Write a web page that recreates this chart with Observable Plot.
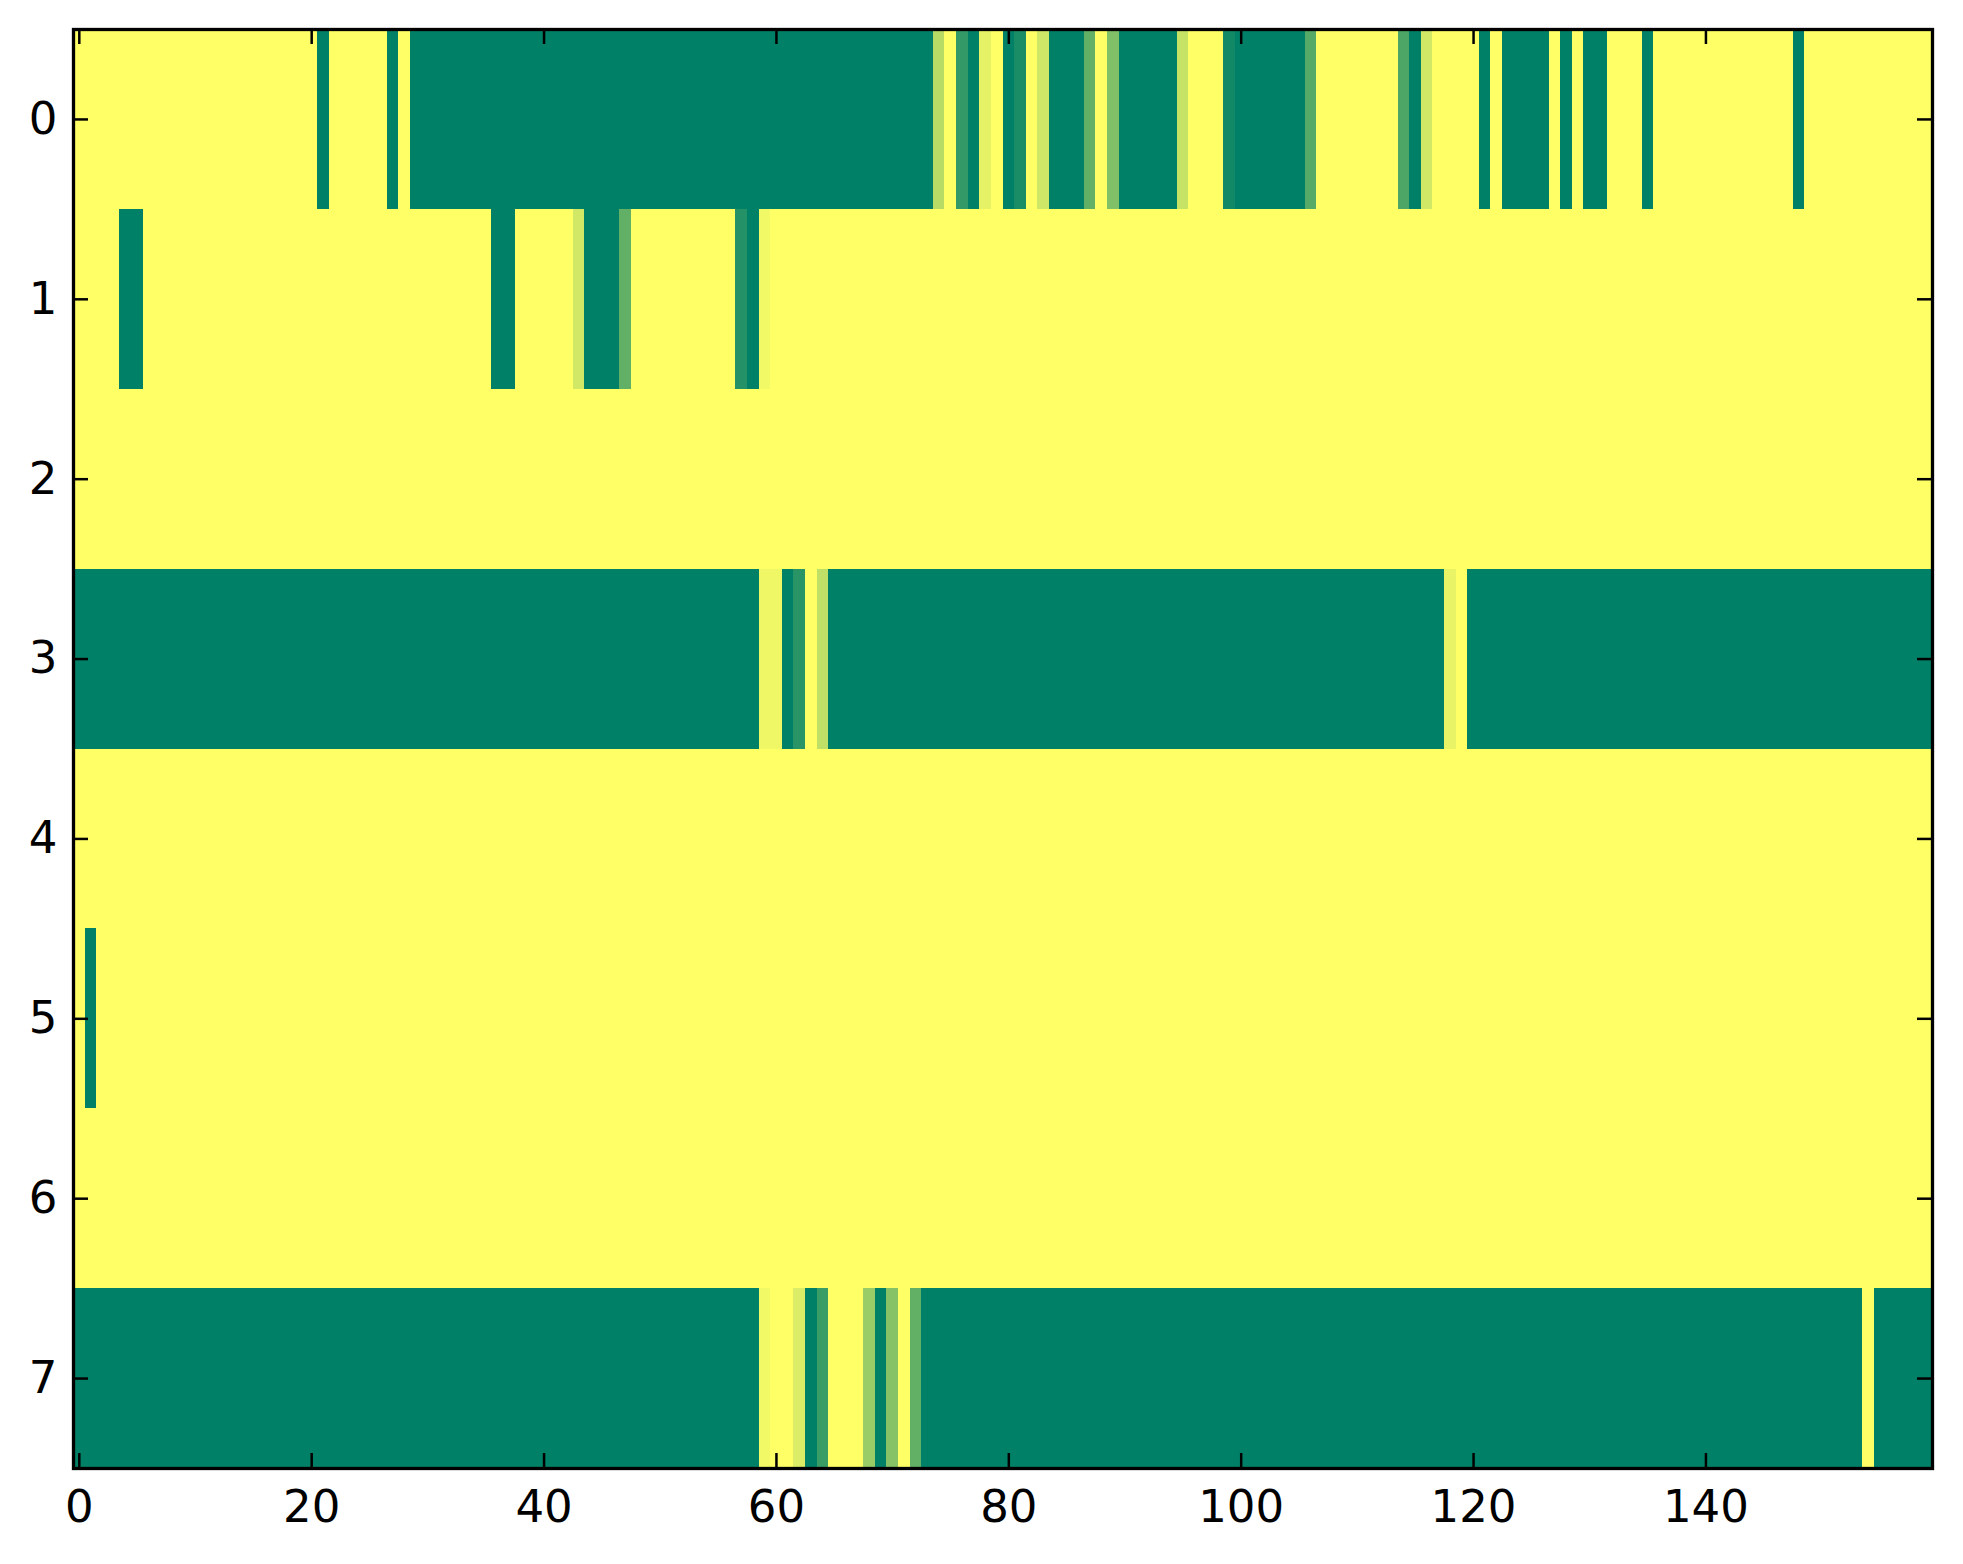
<!DOCTYPE html>
<html><head><meta charset="utf-8">
<script src="https://cdn.jsdelivr.net/npm/d3@7"></script>
<script src="https://cdn.jsdelivr.net/npm/@observablehq/plot@0.6"></script>
<style>body{margin:0;background:#fff}</style>
</head><body><div id="chart"></div>
<script>
// Row labels and x tick labels
const rowLabels = [0, 1, 2, 3, 4, 5, 6, 7];
const xTickValues = [0, 20, 40, 60, 80, 100, 120, 140];
const nCols = 160;

// Each row as runs of cells: [firstColumn, lastColumn, value]
const row0 = [[0,20,1],[21,21,0],[22,26,1],[27,27,0],[28,28,1],[29,73,0],[74,74,0.72],[75,75,1],[76,76,0.2],[77,77,0],[78,78,0.9],[79,79,1],[80,80,0],[81,81,0.1],[82,82,1],[83,83,0.81],[84,86,0],[87,87,0.38],[88,88,1],[89,89,0.5],[90,94,0],[95,95,0.78],[96,98,1],[99,99,0.07],[100,105,0],[106,106,0.33],[107,113,1],[114,114,0.3],[115,115,0],[116,116,0.82],[117,120,1],[121,121,0],[122,122,1],[123,126,0],[127,127,1],[128,128,0],[129,129,1],[130,131,0],[132,134,1],[135,135,0],[136,147,1],[148,148,0],[149,159,1]];
const row1 = [[0,3,1],[4,5,0],[6,35,1],[36,37,0],[38,42,1],[43,43,0.82],[44,46,0],[47,47,0.38],[48,56,1],[57,57,0.14],[58,58,0],[59,59,0.95],[60,159,1]];
const row2 = [[0,159,1]];
const row3 = [[0,58,0],[59,60,0.94],[61,61,0],[62,62,0.16],[63,63,1],[64,64,0.75],[65,117,0],[118,118,0.91],[119,119,1],[120,159,0]];
const row4 = [[0,159,1]];
const row5 = [[0,0,1],[1,1,0],[2,159,1]];
const row6 = [[0,159,1]];
const row7 = [[0,58,0],[59,59,0.95],[60,61,1],[62,62,0.86],[63,63,0],[64,64,0.23],[65,67,1],[68,68,0.6],[69,69,0],[70,70,0.53],[71,71,1],[72,72,0.38],[73,153,0],[154,154,1],[155,159,0]];

const rows = [row0, row1, row2, row3, row4, row5, row6, row7];
const runs = rows.flatMap((r, i) => r.map(([a, b, v]) => ({row: rowLabels[i], first: a, last: b, value: v})));

const W = 1963, H = 1564, mL = 73, mR = 31, mT = 29, mB = 96;
const plotW = W - mL - mR, plotH = H - mT - mB;
const tickLen = 15;
const tickStyle = {stroke: "black", strokeWidth: 2.5};
const fs = 45;

const chart = Plot.plot({
  width: W, height: H,
  marginLeft: mL, marginRight: mR, marginTop: mT, marginBottom: mB,
  style: {fontFamily: "'DejaVu Sans', sans-serif", fontSize: fs + "px", background: "white", color: "black"},
  x: {domain: [-0.5, nCols - 0.5]},
  y: {domain: [-0.5, 7.5], reverse: true},
  color: {type: "linear", domain: [0, 1], range: ["#008066", "#ffff66"], interpolate: "rgb"},
  marks: [
    Plot.rect(runs, {
      x1: d => d.first - 0.5, x2: d => d.last + 0.5,
      y1: d => d.row - 0.5, y2: d => d.row + 0.5,
      fill: "value", shapeRendering: "crispEdges"
    }),
    Plot.tickX(xTickValues, {x: d => d, insetTop: plotH - tickLen, ...tickStyle}),
    Plot.tickX(xTickValues, {x: d => d, insetBottom: plotH - tickLen, ...tickStyle}),
    Plot.tickY(rowLabels, {y: d => d, insetRight: plotW - tickLen, ...tickStyle}),
    Plot.tickY(rowLabels, {y: d => d, insetLeft: plotW - tickLen, ...tickStyle}),
    Plot.axisX(xTickValues, {tickSize: 0, tickPadding: 22, fontSize: fs, label: null, fill: "black", tickFormat: d3.format("d")}),
    Plot.axisY(rowLabels, {tickSize: 0, tickPadding: 16, fontSize: fs, label: null, fill: "black", tickFormat: d3.format("d")}),
    Plot.frame({stroke: "black", strokeWidth: 3.3})
  ]
});
document.getElementById("chart").appendChild(chart);
</script>
</body></html>
